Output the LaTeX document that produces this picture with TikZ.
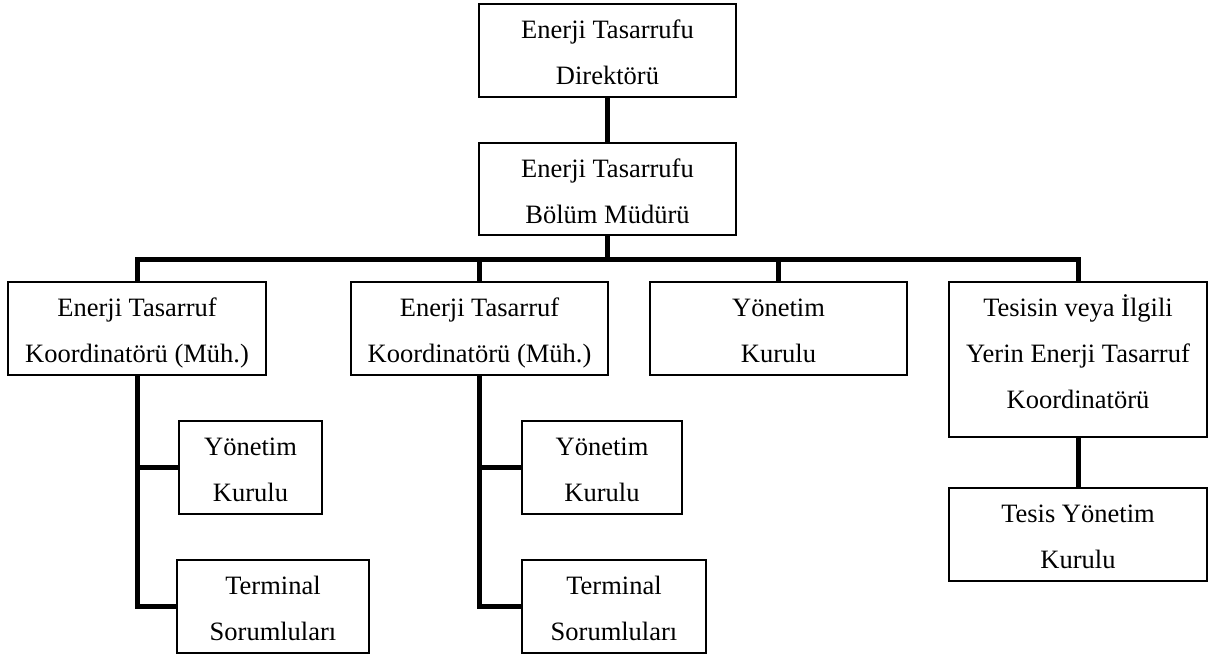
\documentclass[tikz,border=0pt]{standalone}
\usepackage{fontspec}
\setmainfont{Liberation Serif}
\newcommand{\bt}[3]{\begin{minipage}[c][#2pt][t]{#1pt}\centering\fontsize{26.5}{46}\selectfont\rule{0pt}{34pt}#3\end{minipage}}
\tikzset{
  bx/.style={draw=black, line width=1.3pt, inner sep=0pt, outer sep=0pt, fill=white},
  conn/.style={draw=black, line width=5pt}
}
\begin{document}
\begin{tikzpicture}[x=1pt,y=-1pt]
\useasboundingbox (0,0) rectangle (1210,657);
% connectors first (under boxes)
\coordinate (bus) at (0,259);
% boxes
\node[bx] (A) at (607.5,50.5) {\bt{257}{93}{Enerji Tasarrufu\\Direktörü}};
\node[bx] (B) at (607.5,189) {\bt{257}{92}{Enerji Tasarrufu\\Bölüm Müdürü}};
\node[bx] (C1) at (137,328.5) {\bt{258}{93}{Enerji Tasarruf\\Koordinatörü (Müh.)}};
\node[bx] (C2) at (479.5,328.5) {\bt{257}{93}{Enerji Tasarruf\\Koordinatörü (Müh.)}};
\node[bx] (C3) at (778.5,328.5) {\bt{257}{93}{Yönetim\\Kurulu}};
\node[bx] (C4) at (1078,359.5) {\bt{258}{155}{Tesisin veya İlgili\\Yerin Enerji Tasarruf\\Koordinatörü}};
\node[bx] (D1) at (250.5,467.5) {\bt{143}{93}{Yönetim\\Kurulu}};
\node[bx] (E1) at (273,606.5) {\bt{192}{93}{Terminal\\Sorumluları}};
\node[bx] (D2) at (602,467.5) {\bt{160}{93}{Yönetim\\Kurulu}};
\node[bx] (E2) at (614,606.5) {\bt{184}{93}{Terminal\\Sorumluları}};
\node[bx] (F) at (1078,534.5) {\bt{258}{93}{Tesis Yönetim\\Kurulu}};
% connectors
\draw[conn] (A.south) -- (B.north);
\draw[conn] (B.south) -- (B.south |- bus);
\draw[conn] (C1.north) -- (C1.north |- bus) -| (C4.north);
\draw[conn] (C2.north) -- (C2.north |- bus);
\draw[conn] (C3.north) -- (C3.north |- bus);
\draw[conn] (C1.south) |- (E1.west);
\draw[conn] (C1.south |- D1.west) -- (D1.west);
\draw[conn] (C2.south) |- (E2.west);
\draw[conn] (C2.south |- D2.west) -- (D2.west);
\draw[conn] (C4.south) -- (F.north);
\end{tikzpicture}
\end{document}
